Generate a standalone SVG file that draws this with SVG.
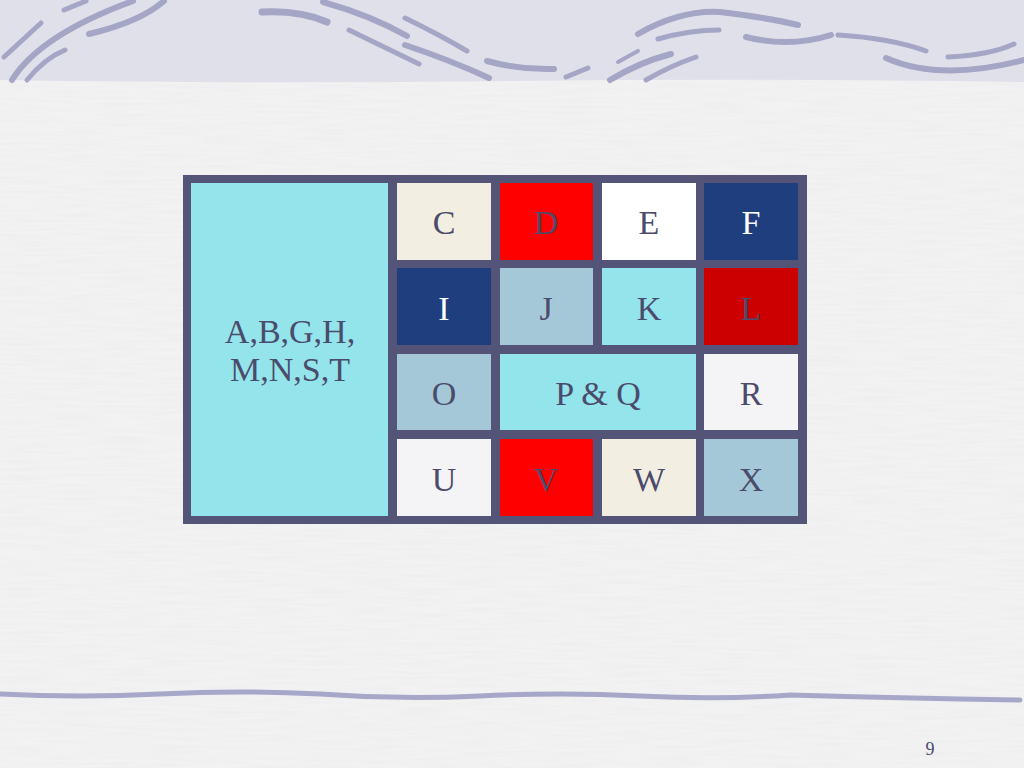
<svg xmlns="http://www.w3.org/2000/svg" width="1024" height="768" viewBox="0 0 1024 768">
<defs>
<style>
.t{font-family:"Liberation Serif","Times New Roman",serif;font-size:34px;fill:#4b4b6b;text-anchor:middle}
.w{fill:#ffffff}
.sw{fill:none;stroke:#9a9ac0;stroke-linecap:round;opacity:0.85}
</style>
<filter id="tex" x="0" y="0" width="100%" height="100%">
<feTurbulence type="fractalNoise" baseFrequency="0.02 0.35" numOctaves="2" seed="3"/>
<feColorMatrix type="matrix" values="0 0 0 0 0.5  0 0 0 0 0.5  0 0 0 0 0.55  0 0 0 -1.2 0.75"/>
</filter>
</defs>
<rect x="0" y="0" width="1024" height="768" fill="#f2f2f3"/>
<rect x="0" y="0" width="1024" height="768" filter="url(#tex)" opacity="0.12"/>
<path d="M0 0H1024V82Q760 78 512 81Q250 84 0 80Z" fill="#e0e0eb"/>
<g id="swooshes">
<path class="sw" stroke-width="5" d="M4 57L41 23"/>
<path class="sw" stroke-width="6" d="M12 80Q40 35 133 1"/>
<path class="sw" stroke-width="5" d="M27 80Q45 58 65 50"/>
<path class="sw" stroke-width="5" d="M64 10L86 1"/>
<path class="sw" stroke-width="6" d="M89 34Q140 22 164 1"/>
<path class="sw" stroke-width="7" d="M262 12Q300 10 327 22"/>
<path class="sw" stroke-width="6" d="M323 2Q370 15 407 36"/>
<path class="sw" stroke-width="5" d="M349 30Q390 50 419 64"/>
<path class="sw" stroke-width="5" d="M405 18Q440 35 467 51"/>
<path class="sw" stroke-width="6" d="M405 45Q450 60 489 78"/>
<path class="sw" stroke-width="6" d="M487 61Q520 70 554 69"/>
<path class="sw" stroke-width="5" d="M566 77L588 68"/>
<path class="sw" stroke-width="6" d="M610 80Q640 62 671 54"/>
<path class="sw" stroke-width="4" d="M618 62L638 51"/>
<path class="sw" stroke-width="5" d="M646 80Q670 66 696 57"/>
<path class="sw" stroke-width="6" d="M638 34Q680 10 720 12Q770 18 798 25"/>
<path class="sw" stroke-width="5" d="M658 39Q690 30 719 30"/>
<path class="sw" stroke-width="6" d="M746 37Q790 48 831 35"/>
<path class="sw" stroke-width="5" d="M838 35Q890 38 926 51"/>
<path class="sw" stroke-width="6" d="M886 58Q940 82 1024 60"/>
<path class="sw" stroke-width="5" d="M948 57Q990 55 1014 44"/>
</g>
<path d="M0 694Q80 698 160 694Q240 690 320 694Q400 700 480 696Q560 692 640 696Q720 700 790 695Q900 698 1020 700" fill="none" stroke="#a7a7c9" stroke-width="5" stroke-linecap="round"/>
<rect x="183" y="175" width="624" height="349" fill="#545478"/>
<g id="ABGHMNST"><rect x="191" y="183" width="197" height="333" fill="#94e4ec"/><text class="t" x="290" y="343">A,B,G,H,</text><text class="t" x="290" y="381">M,N,S,T</text></g>
<g id="C"><rect x="397" y="183" width="94" height="77" fill="#f2efe2"/><text class="t" x="444" y="234">C</text></g>
<g id="D"><rect x="500" y="183" width="93" height="77" fill="#ff0000"/><text class="t" x="546" y="234">D</text></g>
<g id="E"><rect x="602" y="183" width="94" height="77" fill="#ffffff"/><text class="t" x="649" y="234">E</text></g>
<g id="F"><rect x="704" y="183" width="94" height="77" fill="#1e3e7e"/><text class="t w" x="751" y="234">F</text></g>
<g id="I"><rect x="397" y="268" width="94" height="77" fill="#1e3e7e"/><text class="t w" x="444" y="320">I</text></g>
<g id="J"><rect x="500" y="268" width="93" height="77" fill="#a4c8d8"/><text class="t" x="546" y="320">J</text></g>
<g id="K"><rect x="602" y="268" width="94" height="77" fill="#94e4ec"/><text class="t" x="649" y="320">K</text></g>
<g id="L"><rect x="704" y="268" width="94" height="77" fill="#cc0000"/><text class="t" x="751" y="320">L</text></g>
<g id="O"><rect x="397" y="354" width="94" height="76" fill="#a4c8d8"/><text class="t" x="444" y="405">O</text></g>
<g id="PQ"><rect x="500" y="354" width="196" height="76" fill="#94e4ec"/><text class="t" x="598" y="405">P &amp; Q</text></g>
<g id="R"><rect x="704" y="354" width="94" height="76" fill="#f4f4f6"/><text class="t" x="751" y="405">R</text></g>
<g id="U"><rect x="397" y="439" width="94" height="77" fill="#f4f4f6"/><text class="t" x="444" y="491">U</text></g>
<g id="V"><rect x="500" y="439" width="93" height="77" fill="#ff0000"/><text class="t" x="546" y="491">V</text></g>
<g id="W"><rect x="602" y="439" width="94" height="77" fill="#f2efe2"/><text class="t" x="649" y="491">W</text></g>
<g id="X"><rect x="704" y="439" width="94" height="77" fill="#a4c8d8"/><text class="t" x="751" y="491">X</text></g>
<text x="930" y="755" font-family="Liberation Serif, serif" font-size="18" fill="#4b4b6b" text-anchor="middle">9</text>
</svg>
